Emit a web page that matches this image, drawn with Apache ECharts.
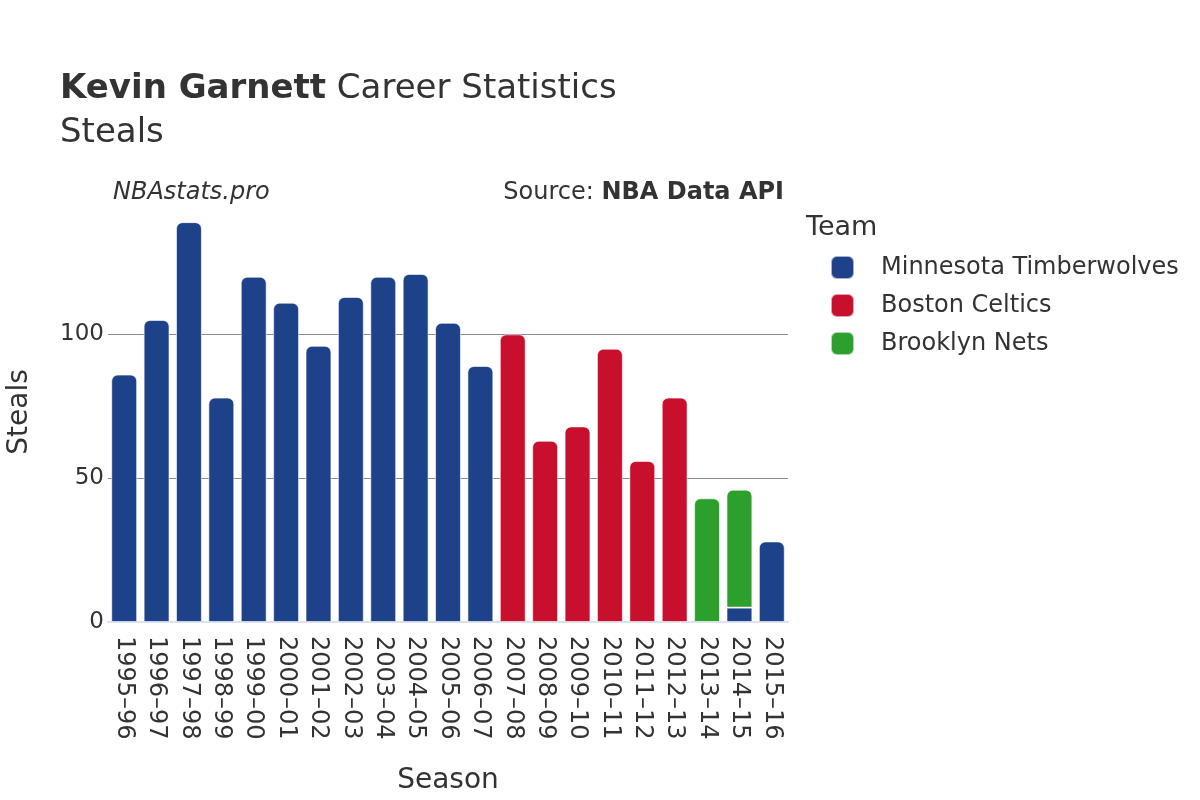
<!DOCTYPE html>
<html><head><meta charset="utf-8">
<script src="https://cdn.jsdelivr.net/npm/echarts@6/dist/echarts.min.js"></script>
<style>html,body{margin:0;padding:0;background:#fff}#c{width:1200px;height:800px}</style>
</head><body><div id="c"></div>
<script>
const seasons = ["1995–96","1996–97","1997–98","1998–99","1999–00","2000–01","2001–02","2002–03","2003–04","2004–05","2005–06","2006–07","2007–08","2008–09","2009–10","2010–11","2011–12","2012–13","2013–14","2014–15","2015–16"];
const minnesota = [86,105,139,78,120,111,96,113,120,121,104,89,null,null,null,null,null,null,null,5,28];
const boston    = [null,null,null,null,null,null,null,null,null,null,null,null,100,63,68,95,56,78,null,null,null];
const brooklyn  = [null,null,null,null,null,null,null,null,null,null,null,null,null,null,null,null,null,null,43,41,null];
const teams = ["Minnesota Timberwolves","Boston Celtics","Brooklyn Nets"];
const colors = ["#1d428a","#c8102e","#2ca02c"];
const yTicks = [0,50,100];

const all = [minnesota, boston, brooklyn];
function build(si){
  return all[si].map((v,i)=>{
    if(v==null) return null;
    let top = true;
    for(let k=si+1;k<all.length;k++){ if(all[k][i]!=null) top=false; }
    return {value:v, itemStyle:{borderRadius: top?[6,6,0,0]:0}};
  });
}
const F = "DejaVu Sans";
const chart = echarts.init(document.getElementById('c'));
chart.setOption({
  backgroundColor:'#fff',
  animation:false,
  title:[
    {text:'{b|Kevin Garnett} Career Statistics\nSteals', left:60, top:67, padding:0,
     textStyle:{fontFamily:F,fontSize:34,fontWeight:'normal',color:'#333',lineHeight:44,
       rich:{b:{fontFamily:F,fontSize:34,fontWeight:'bold',color:'#333'}}}},
    {text:'NBAstats.pro', left:113, top:181, padding:0, textStyle:{fontFamily:F,fontSize:24,fontStyle:'italic',fontWeight:'normal',color:'#333'}},
    {text:'Source: {b|NBA Data API}', right:416, top:181, padding:0, textStyle:{fontFamily:F,fontSize:24,fontWeight:'normal',color:'#333',
       rich:{b:{fontFamily:F,fontSize:24,fontWeight:'bold',color:'#333'}}}},
    {text:'Team', left:806, top:214, padding:0, textStyle:{fontFamily:F,fontSize:27,fontWeight:'normal',color:'#333'}}
  ],
  legend:{
    data:teams, orient:'vertical', left:830, top:255, itemGap:13, padding:0,
    itemWidth:23, itemHeight:23, icon:'roundRect',
    textStyle:{fontFamily:F,fontSize:24,color:'#333',padding:[0,0,0,22]}
  },
  grid:{left:108,right:412,top:202,bottom:178,outerBoundsMode:'none'},
  xAxis:{
    type:'category', data:seasons, name:'Season', nameLocation:'middle', nameGap:145,
    nameTextStyle:{fontFamily:F,fontSize:28,color:'#333'},
    axisLine:{show:true,lineStyle:{color:'#dde3ee',width:2}},
    axisTick:{show:false},
    axisLabel:{rotate:-90,fontFamily:F,fontSize:24,color:'#333',margin:14}
  },
  yAxis:{
    type:'value', min:0, max:146, interval:50,
    name:'Steals', nameLocation:'middle', nameGap:74,
    nameTextStyle:{fontFamily:F,fontSize:28,color:'#333'},
    axisLine:{show:false}, axisTick:{show:false},
    axisLabel:{fontFamily:F,fontSize:23,color:'#333',margin:4,
      formatter:v=>yTicks.includes(v)?String(v):''},
    splitLine:{show:true,lineStyle:{color:['rgba(0,0,0,0)','#8c8c8c','#8c8c8c','rgba(0,0,0,0)'],width:1}}
  },
  series: teams.map((t,si)=>({
    name:t, type:'bar', stack:'total', data:build(si),
    barCategoryGap:'20%',
    itemStyle:{color:colors[si], borderColor:'rgba(255,255,255,0.6)', borderWidth:1}
  })),
  color:colors
});
</script></body></html>
